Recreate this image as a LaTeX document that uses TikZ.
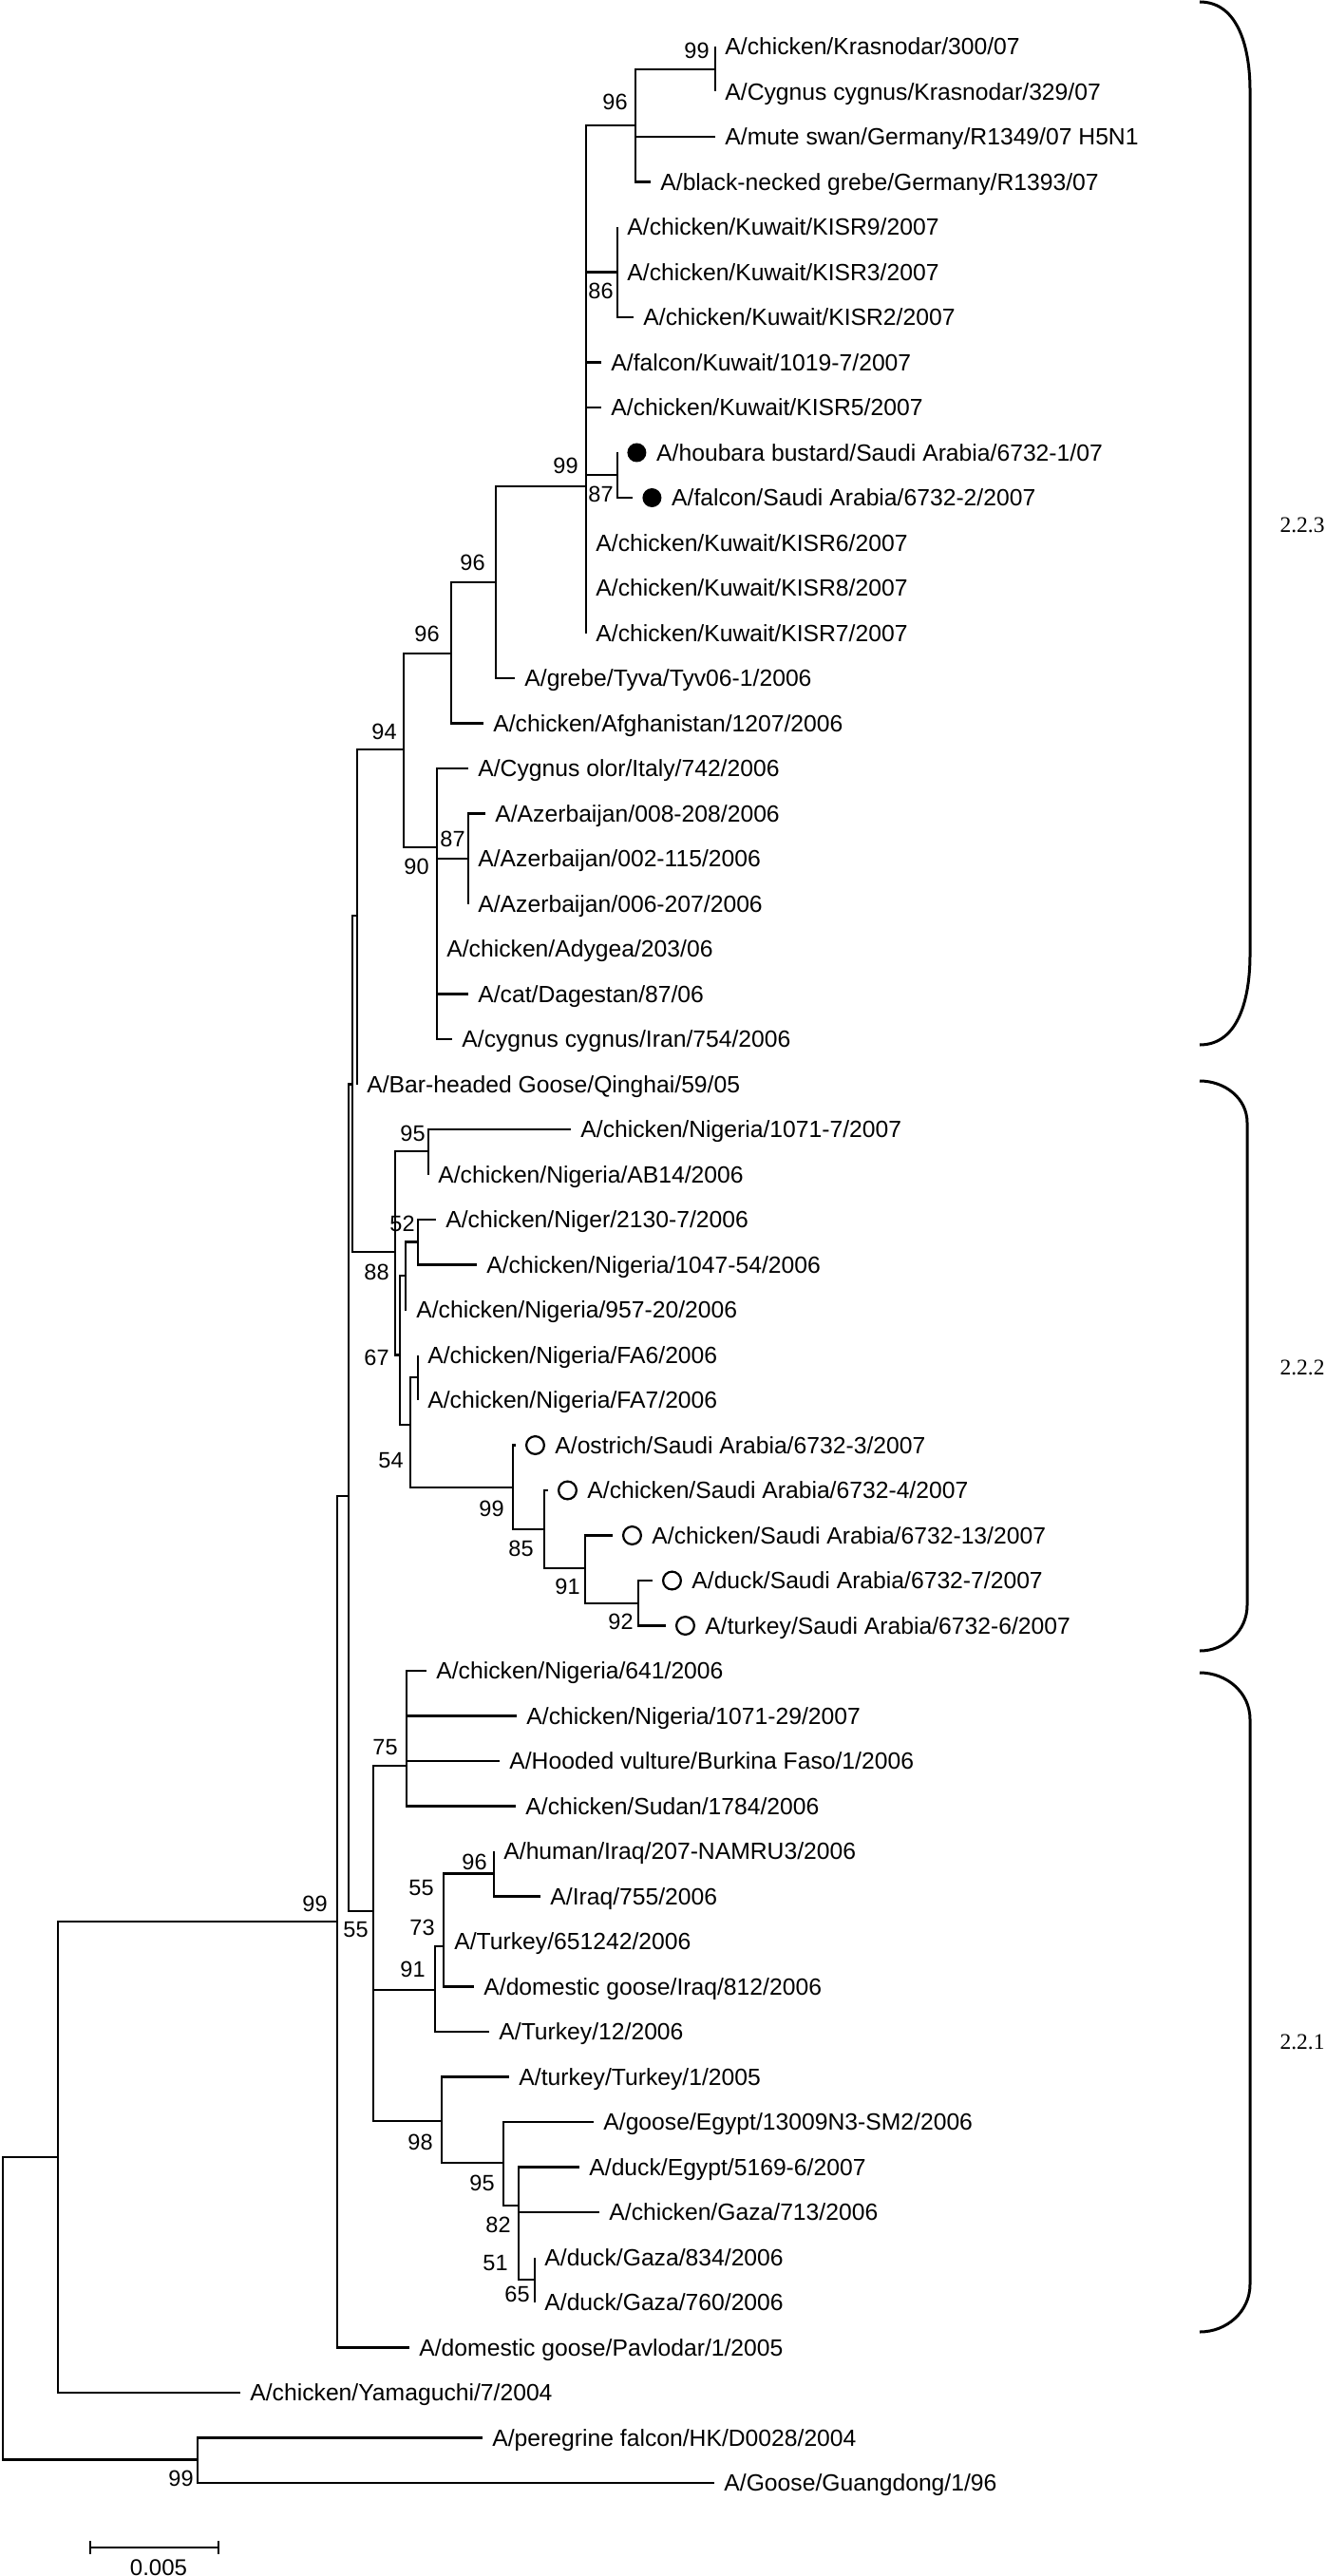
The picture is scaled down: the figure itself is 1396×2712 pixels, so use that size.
\documentclass[tikz,border=0pt]{standalone}
\usepackage{fontspec}
\setmainfont{Liberation Sans}
\newfontfamily\cladefont{Liberation Serif}
\usetikzlibrary{positioning}

\begin{document}
\begin{tikzpicture}[x=0.5pt, y=-0.5pt,
    br/.style={line width=1.1pt},
    leaf/.style={anchor=west, inner xsep=5pt, inner ysep=0pt, text height=8.84pt, text depth=0pt, font=\fontsize{12.35}{14}\selectfont},
    boot/.style={anchor=east, inner sep=0pt, font=\fontsize{11.75}{13}\selectfont},
    dotfilled/.style={circle, fill, inner sep=0pt, minimum size=10pt},
    dotopen/.style={circle, draw, line width=1.1pt, inner sep=0pt, minimum size=9.4pt},
    brace/.style={line width=1.5pt},
    clade/.style={inner sep=0pt, font=\cladefont\fontsize{11.75}{13}\selectfont}]
  \useasboundingbox (0,0) rectangle (1396,2712);

  % taxa
  \node[leaf] (l1) at (753,49) {A/chicken/Krasnodar/300/07};
  \node[leaf] (l2) at (753,96.5) {A/Cygnus cygnus/Krasnodar/329/07};
  \node[leaf] (l3) at (753,144) {A/mute swan/Germany/R1349/07 H5N1};
  \node[leaf] (l4) at (685,191.5) {A/black-necked grebe/Germany/R1393/07};
  \node[leaf] (l5) at (650,239) {A/chicken/Kuwait/KISR9/2007};
  \node[leaf] (l6) at (650,286.5) {A/chicken/Kuwait/KISR3/2007};
  \node[leaf] (l7) at (667,334) {A/chicken/Kuwait/KISR2/2007};
  \node[leaf] (l8) at (633,381.5) {A/falcon/Kuwait/1019-7/2007};
  \node[leaf] (l9) at (633,429) {A/chicken/Kuwait/KISR5/2007};
  \coordinate (e10) at (650,476.5);
  \node[dotfilled, right=5pt of e10] (d10) {};
  \node[leaf, right=0pt of d10] (l10) {A/houbara bustard/Saudi Arabia/6732-1/07};
  \coordinate (e11) at (666,524);
  \node[dotfilled, right=5pt of e11] (d11) {};
  \node[leaf, right=0pt of d11] (l11) {A/falcon/Saudi Arabia/6732-2/2007};
  \node[leaf] (l12) at (617,571.5) {A/chicken/Kuwait/KISR6/2007};
  \node[leaf] (l13) at (617,619) {A/chicken/Kuwait/KISR8/2007};
  \node[leaf] (l14) at (617,666.5) {A/chicken/Kuwait/KISR7/2007};
  \node[leaf] (l15) at (542,714) {A/grebe/Tyva/Tyv06-1/2006};
  \node[leaf] (l16) at (509,761.5) {A/chicken/Afghanistan/1207/2006};
  \node[leaf] (l17) at (493,809) {A/Cygnus olor/Italy/742/2006};
  \node[leaf] (l18) at (511,856.5) {A/Azerbaijan/008-208/2006};
  \node[leaf] (l19) at (493,904) {A/Azerbaijan/002-115/2006};
  \node[leaf] (l20) at (493,951.5) {A/Azerbaijan/006-207/2006};
  \node[leaf] (l21) at (460,999) {A/chicken/Adygea/203/06};
  \node[leaf] (l22) at (493,1046.5) {A/cat/Dagestan/87/06};
  \node[leaf] (l23) at (476,1094) {A/cygnus cygnus/Iran/754/2006};
  \node[leaf] (l24) at (376,1141.5) {A/Bar-headed Goose/Qinghai/59/05};
  \node[leaf] (l25) at (601,1189) {A/chicken/Nigeria/1071-7/2007};
  \node[leaf] (l26) at (451,1236.5) {A/chicken/Nigeria/AB14/2006};
  \node[leaf] (l27) at (459,1284) {A/chicken/Niger/2130-7/2006};
  \node[leaf] (l28) at (502,1331.5) {A/chicken/Nigeria/1047-54/2006};
  \node[leaf] (l29) at (428,1379) {A/chicken/Nigeria/957-20/2006};
  \node[leaf] (l30) at (440,1426.5) {A/chicken/Nigeria/FA6/2006};
  \node[leaf] (l31) at (440,1474) {A/chicken/Nigeria/FA7/2006};
  \coordinate (e32) at (543,1521.5);
  \node[dotopen, right=5pt of e32] (d32) {};
  \node[leaf, right=0pt of d32] (l32) {A/ostrich/Saudi Arabia/6732-3/2007};
  \coordinate (e33) at (577,1569);
  \node[dotopen, right=5pt of e33] (d33) {};
  \node[leaf, right=0pt of d33] (l33) {A/chicken/Saudi Arabia/6732-4/2007};
  \coordinate (e34) at (645,1616.5);
  \node[dotopen, right=5pt of e34] (d34) {};
  \node[leaf, right=0pt of d34] (l34) {A/chicken/Saudi Arabia/6732-13/2007};
  \coordinate (e35) at (687,1664);
  \node[dotopen, right=5pt of e35] (d35) {};
  \node[leaf, right=0pt of d35] (l35) {A/duck/Saudi Arabia/6732-7/2007};
  \coordinate (e36) at (701,1711.5);
  \node[dotopen, right=5pt of e36] (d36) {};
  \node[leaf, right=0pt of d36] (l36) {A/turkey/Saudi Arabia/6732-6/2007};
  \node[leaf] (l37) at (449,1759) {A/chicken/Nigeria/641/2006};
  \node[leaf] (l38) at (544,1806.5) {A/chicken/Nigeria/1071-29/2007};
  \node[leaf] (l39) at (526,1854) {A/Hooded vulture/Burkina Faso/1/2006};
  \node[leaf] (l40) at (543,1901.5) {A/chicken/Sudan/1784/2006};
  \node[leaf] (l41) at (520,1949) {A/human/Iraq/207-NAMRU3/2006};
  \node[leaf] (l42) at (569,1996.5) {A/Iraq/755/2006};
  \node[leaf] (l43) at (468,2044) {A/Turkey/651242/2006};
  \node[leaf] (l44) at (499,2091.5) {A/domestic goose/Iraq/812/2006};
  \node[leaf] (l45) at (515,2139) {A/Turkey/12/2006};
  \node[leaf] (l46) at (536,2186.5) {A/turkey/Turkey/1/2005};
  \node[leaf] (l47) at (625,2234) {A/goose/Egypt/13009N3-SM2/2006};
  \node[leaf] (l48) at (610,2281.5) {A/duck/Egypt/5169-6/2007};
  \node[leaf] (l49) at (631,2329) {A/chicken/Gaza/713/2006};
  \node[leaf] (l50) at (563,2376.5) {A/duck/Gaza/834/2006};
  \node[leaf] (l51) at (563,2424) {A/duck/Gaza/760/2006};
  \node[leaf] (l52) at (431,2471.5) {A/domestic goose/Pavlodar/1/2005};
  \node[leaf] (l53) at (253,2519) {A/chicken/Yamaguchi/7/2004};
  \node[leaf] (l54) at (508,2566.5) {A/peregrine falcon/HK/D0028/2004};
  \node[leaf] (l55) at (752,2614) {A/Goose/Guangdong/1/96};

  % internal nodes
  \coordinate (nRoot) at (3,2430);
  \coordinate (nY) at (61,2271);
  \coordinate (nGG) at (208,2589.5);
  \coordinate (nR0) at (355,2023);
  \coordinate (nR1) at (367,1575);
  \coordinate (nR2) at (371,1141.5);
  \coordinate (nR3) at (376,964);
  \coordinate (n94) at (425,789);
  \coordinate (n96c) at (475,688);
  \coordinate (n96b) at (522,613);
  \coordinate (n99a) at (617,512);
  \coordinate (n96a) at (669,132);
  \coordinate (nKr) at (753,72.75);
  \coordinate (n86) at (650,286.5);
  \coordinate (n87a) at (650,500);
  \coordinate (n90) at (460,892);
  \coordinate (n87b) at (493,904);
  \coordinate (n88) at (416,1318);
  \coordinate (n95a) at (451,1212);
  \coordinate (n67) at (421,1426.5);
  \coordinate (nNg) at (427,1343);
  \coordinate (n52) at (440,1307.5);
  \coordinate (n54) at (432,1500);
  \coordinate (nFA) at (440,1450);
  \coordinate (n99s) at (540,1566);
  \coordinate (n85) at (573,1610);
  \coordinate (n91s) at (616,1651);
  \coordinate (n92) at (672,1688);
  \coordinate (n55) at (393,2012);
  \coordinate (n75) at (428,1859);
  \coordinate (n91) at (458,2095);
  \coordinate (n73) at (467,2049);
  \coordinate (n96i) at (520,1972.5);
  \coordinate (n98) at (465,2233);
  \coordinate (n95e) at (530,2277);
  \coordinate (n82) at (546,2322);
  \coordinate (n65) at (563,2400);

  % branches
  \draw[br] (nRoot) |- (nY) (nRoot) |- (nGG);
  \draw[br] (nY) |- (nR0) (nY) |- (l53);
  \draw[br] (nGG) |- (l54) (nGG) |- (l55);
  \draw[br] (nR0) |- (nR1) (nR0) |- (l52);
  \draw[br] (nR1) |- (nR2) (nR1) |- (n55);
  \draw[br] (nR2) |- (nR3) (nR2) |- (n88);
  \draw[br] (nR3) |- (n94) (nR3) |- (l24);
  \draw[br] (n94) |- (n96c) (n94) |- (n90);
  \draw[br] (n96c) |- (n96b) (n96c) |- (l16);
  \draw[br] (n96b) |- (n99a) (n96b) |- (l15);
  \draw[br] (n99a) |- (n96a) (n99a) |- (n86) (n99a) |- (l8) (n99a) |- (l9)
    (n99a) |- (n87a) (n99a) |- (l12) (n99a) |- (l13) (n99a) |- (l14);
  \draw[br] (n96a) |- (nKr) (n96a) |- (l3) (n96a) |- (l4);
  \draw[br] (nKr) |- (l1) (nKr) |- (l2);
  \draw[br] (n86) |- (l5) (n86) |- (l6) (n86) |- (l7);
  \draw[br] (n87a) |- (e10) (n87a) |- (e11);
  \draw[br] (n90) |- (l17) (n90) |- (n87b) (n90) |- (l21) (n90) |- (l22) (n90) |- (l23);
  \draw[br] (n87b) |- (l18) (n87b) |- (l19) (n87b) |- (l20);
  \draw[br] (n88) |- (n95a) (n88) |- (n67);
  \draw[br] (n95a) |- (l25) (n95a) |- (l26);
  \draw[br] (n67) |- (nNg) (n67) |- (n54);
  \draw[br] (nNg) |- (n52) (nNg) |- (l29);
  \draw[br] (n52) |- (l27) (n52) |- (l28);
  \draw[br] (n54) |- (nFA) (n54) |- (n99s);
  \draw[br] (nFA) |- (l30) (nFA) |- (l31);
  \draw[br] (n99s) |- (e32) (n99s) |- (n85);
  \draw[br] (n85) |- (e33) (n85) |- (n91s);
  \draw[br] (n91s) |- (e34) (n91s) |- (n92);
  \draw[br] (n92) |- (e35) (n92) |- (e36);
  \draw[br] (n55) |- (n75) (n55) |- (n91) (n55) |- (n98);
  \draw[br] (n75) |- (l37) (n75) |- (l38) (n75) |- (l39) (n75) |- (l40);
  \draw[br] (n91) |- (n73) (n91) |- (l45);
  \draw[br] (n73) |- (n96i) (n73) |- (l43) (n73) |- (l44);
  \draw[br] (n96i) |- (l41) (n96i) |- (l42);
  \draw[br] (n98) |- (l46) (n98) |- (n95e);
  \draw[br] (n95e) |- (l47) (n95e) |- (n82);
  \draw[br] (n82) |- (l48) (n82) |- (l49) (n82) |- (n65);
  \draw[br] (n65) |- (l50) (n65) |- (l51);

  % bootstrap values
  \node[boot] (bKr) at (747,53) {99};
  \node[boot] (b96a) at (661,107) {96};
  \node[boot] (b99a) at (609,490) {99};
  \node[boot] (b86) at (646,306) {86};
  \node[boot] (b87a) at (646,520) {87};
  \node[boot] (b96b) at (511,592) {96};
  \node[boot] (b96c) at (463,667) {96};
  \node[boot] (b94) at (418,770) {94};
  \node[boot] (b87b) at (490,883) {87};
  \node[boot] (b90) at (452,912) {90};
  \node[boot] (b95a) at (448,1193) {95};
  \node[boot] (b52) at (437,1288) {52};
  \node[boot] (b88) at (410,1339) {88};
  \node[boot] (b67) at (410,1429) {67};
  \node[boot] (b54) at (425,1538) {54};
  \node[boot] (b99s) at (531,1588) {99};
  \node[boot] (b85) at (562,1630) {85};
  \node[boot] (b91s) at (611,1670) {91};
  \node[boot] (b92) at (667,1707) {92};
  \node[boot] (b75) at (419,1840) {75};
  \node[boot] (b96i) at (513,1960) {96};
  \node[boot] (b55u) at (457,1988) {55};
  \node[boot] (b99r) at (345,2004) {99};
  \node[boot] (b73) at (458,2029) {73};
  \node[boot] (b55) at (388,2032) {55};
  \node[boot] (b91) at (448,2073) {91};
  \node[boot] (b98) at (456,2255) {98};
  \node[boot] (b95e) at (521,2298) {95};
  \node[boot] (b82) at (538,2342) {82};
  \node[boot] (b51) at (535,2383) {51};
  \node[boot] (b65) at (558,2415) {65};
  \node[boot] (b99g) at (204,2609) {99};

  % clades
  \draw[brace] (1263,2) to[out=0,in=90] (1316,95) -- (1316,1005) to[out=-90,in=0] (1263,1100);
  \draw[brace] (1263,1138) to[out=0,in=90] (1313,1182) -- (1313,1690) to[out=-90,in=0] (1263,1738);
  \draw[brace] (1263,1761) to[out=0,in=90] (1316,1810) -- (1316,2405) to[out=-90,in=0] (1263,2455);
  \node[clade] (c223) at (1371,553) {2.2.3};
  \node[clade] (c222) at (1371,1440) {2.2.2};
  \node[clade] (c221) at (1371,2150) {2.2.1};

  % scale bar
  \coordinate (sbL) at (95,2682);
  \coordinate (sbR) at (230,2682);
  \draw[br] (sbL) -- (sbR);
  \draw[br] (sbL) ++(0,-7) -- ++(0,14) (sbR) ++(0,-7) -- ++(0,14);
  \node[inner sep=0pt, font=\fontsize{12}{13}\selectfont] (sbT) at (167,2703) {0.005};
\end{tikzpicture}
\end{document}
